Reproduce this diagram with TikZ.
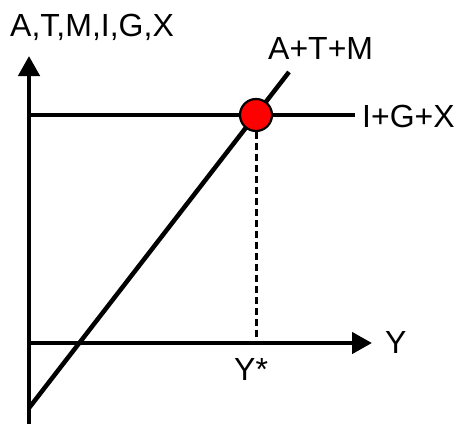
\documentclass[tikz,border=0pt]{standalone}
\usepackage{fontspec}
\setmainfont{Liberation Sans}
\usetikzlibrary{arrows.meta}
\begin{document}
\begin{tikzpicture}[x=1pt,y=-1pt,
  axis/.style={line width=4.5pt,-{Triangle[length=20pt,width=21pt]}},
  curve/.style={line width=4.5pt},
  lbl/.style={anchor=base west,inner sep=0pt,font=\fontsize{32}{32}\selectfont},
  eqpt/.style={circle,draw=black,line width=2.2pt,fill=red,minimum size=32pt,inner sep=0pt},
  guide/.style={line width=3pt,dash pattern=on 7pt off 4pt}]
\useasboundingbox (0,0) rectangle (457,423);
\coordinate (vbot) at (29,425);
\coordinate (vtop) at (29,56);
\coordinate (hleft) at (29,343);
\coordinate (hright) at (372,343);
\coordinate (igxl) at (29,115);
\coordinate (igxr) at (355,115);
\coordinate (atmb) at (29,408);
\coordinate (atmt) at (289,72);
\coordinate (ystar) at (256,341);
\draw[axis] (vbot) -- (vtop);
\draw[axis] (hleft) -- (hright);
\draw[curve] (igxl) -- (igxr);
\draw[curve] (atmb) -- (atmt);
\node[eqpt] (eq) at (256,115) {};
\draw[guide] (eq.south) -- (ystar);
\node[lbl] (ylab) at (10,36) {A,T,M,I,G,X};
\node[lbl] (atm) at (268,59) {A+T+M};
\node[lbl] (igx) at (362,127) {I+G+X};
\node[lbl] (xlab) at (385,353) {Y};
\node[lbl] (ys) at (234,380) {Y*};
\end{tikzpicture}
\end{document}
